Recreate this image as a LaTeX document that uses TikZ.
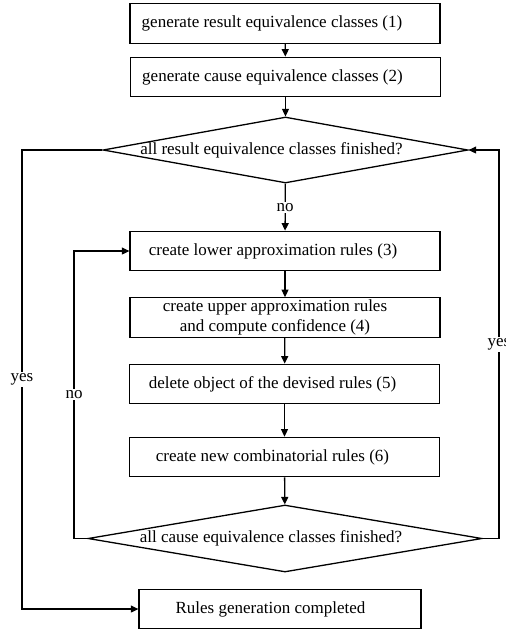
\documentclass[tikz,border=0pt]{standalone}
\usepackage{fontspec}
\setmainfont{Liberation Serif}
\usetikzlibrary{shapes.geometric,arrows.meta}
\begin{document}
\begin{tikzpicture}[x=1pt,y=-1pt,
  font=\fontsize{17}{20.4}\selectfont,
  box/.style={draw, line width=1.3pt, minimum width=310pt, minimum height=39.5pt, inner sep=0pt, align=center},
  dec/.style={draw, line width=1.3pt, shape=diamond, aspect=5.5, inner sep=0pt},
  arr/.style={line width=1.3pt, -{Triangle[length=7.5pt,width=7pt]}},
  lab/.style={fill=white, inner sep=1.5pt}]
\useasboundingbox (0,0) rectangle (506,633);

\node[box] (b1) at (285,23.5) {generate result equivalence classes (1)\hspace*{26pt}};
\node[box] (b2) at (285.5,77) {generate cause equivalence classes (2)\hspace*{26pt}};
\node[dec, minimum width=365pt, minimum height=66pt] (d1) at (285.5,150)
  {\makebox[0pt]{all result equivalence classes finished?\hspace*{28pt}}};
\node[box] (b3) at (285,251) {create lower approximation rules (3)\hspace*{24pt}};
\node[box] (b4) at (285,317.5) {create upper approximation rules\hspace*{20pt}\\ and compute confidence (4)\hspace*{20pt}};
\node[box] (b5) at (284.5,384) {delete object of the devised rules (5)\hspace*{24pt}};
\node[box] (b6) at (284.5,457) {create new combinatorial rules (6)\hspace*{24pt}};
\node[dec, minimum width=394pt, minimum height=67pt] (d2) at (285,538.5)
  {\makebox[0pt]{all cause equivalence classes finished?\hspace*{28pt}}};
\node[box, minimum width=282pt] (b7) at (280,609) {Rules generation completed\hspace*{19pt}};

\coordinate (yl) at (22,0);
\coordinate (nl) at (74,0);
\coordinate (yr) at (499,0);

\draw[arr] (b1) -- (b2);
\draw[arr] (b2) -- (d1);
\draw[arr] (d1) -- node[lab] {no} (b3);
\draw[arr] (b3) -- (b4);
\draw[arr] (b4) -- (b5);
\draw[arr] (b5) -- (b6);
\draw[arr] (b6) -- (d2);

\draw[arr] (d2.west) -- (d2.west -| nl) -- node[lab] {no} (b3.west -| nl) -- (b3.west);
\draw[arr] (d1.west) -- (d1.west -| yl) -- node[lab] {yes} (b7.west -| yl) -- (b7.west);
\draw[arr] (d2.east) -- (d2.east -| yr) -- node[lab] {yes} (d1.east -| yr) -- (d1.east);
\end{tikzpicture}
\end{document}
